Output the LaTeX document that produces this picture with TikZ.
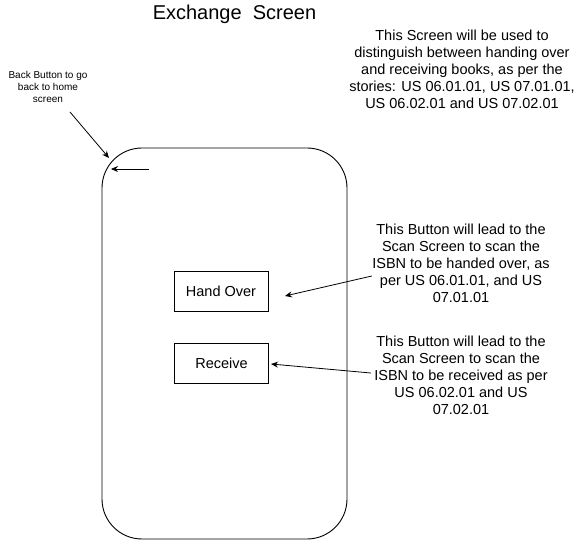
\documentclass[tikz,border=0pt]{standalone}
\usepackage{fontspec}
\setmainfont{Liberation Sans}
\usetikzlibrary{arrows.meta,positioning}
\tikzset{
  screen/.style={draw, rounded corners=40pt, line width=0.9pt},
  btn/.style={draw, line width=0.9pt, minimum width=94pt, minimum height=40pt, font=\fontsize{14.5}{16}\selectfont},
  note/.style={align=center, font=\fontsize{14.5}{17}\selectfont},
  smallnote/.style={align=center, font=\fontsize{10}{12.3}\selectfont},
  title/.style={font=\fontsize{20}{24}\selectfont},
  arrow/.style={-{Stealth[length=7pt, width=6pt]}, line width=0.8pt}
}
\begin{document}
\begin{tikzpicture}[x=1pt, y=-1pt]
  \useasboundingbox[fill=white] (0,0) rectangle (582,540);
  % phone outline
  \draw[screen] (102,148) rectangle (347,539);
  \node[title] (title) at (234.5,14) {Exchange\ \ Screen};
  % buttons
  \node[btn] (handover) at (221,291.5) {Hand Over};
  \node[btn] (receive) at (221.5,363.5) {Receive};
  % back arrow inside the screen
  \coordinate (backstart) at (149,169);
  \coordinate (backend) at (111,169);
  \draw[arrow] (backstart) -- (backend);
  % notes
  \node[smallnote] (backnote) at (48,87) {Back Button to go\\back to home\\screen};
  \node[note] (screennote) at (462,69) {This Screen will be used to\\distinguish between handing over\\and receiving books, as per the\\stories: US 06.01.01, US 07.01.01,\\US 06.02.01 and US 07.02.01};
  \node[note] (honote) at (461,263) {This Button will lead to the\\Scan Screen to scan the\\ISBN to be handed over, as\\per US 06.01.01, and US\\07.01.01};
  \node[note] (rcnote) at (461,375) {This Button will lead to the\\Scan Screen to scan the\\ISBN to be received as per\\US 06.02.01 and US\\07.02.01};
  % connectors
  \coordinate (backfoot) at (70,112);
  \coordinate (backtip) at (109,158);
  \coordinate (hotip) at (285,296);
  \coordinate (rctip) at (271,364);
  \draw[arrow] (backfoot) -- (backtip);
  \draw[arrow] (honote.west |- 0,276) ++(3,0) -- (hotip);
  \draw[arrow] (rcnote.west |- 0,373) -- (rctip);
\end{tikzpicture}
\end{document}
